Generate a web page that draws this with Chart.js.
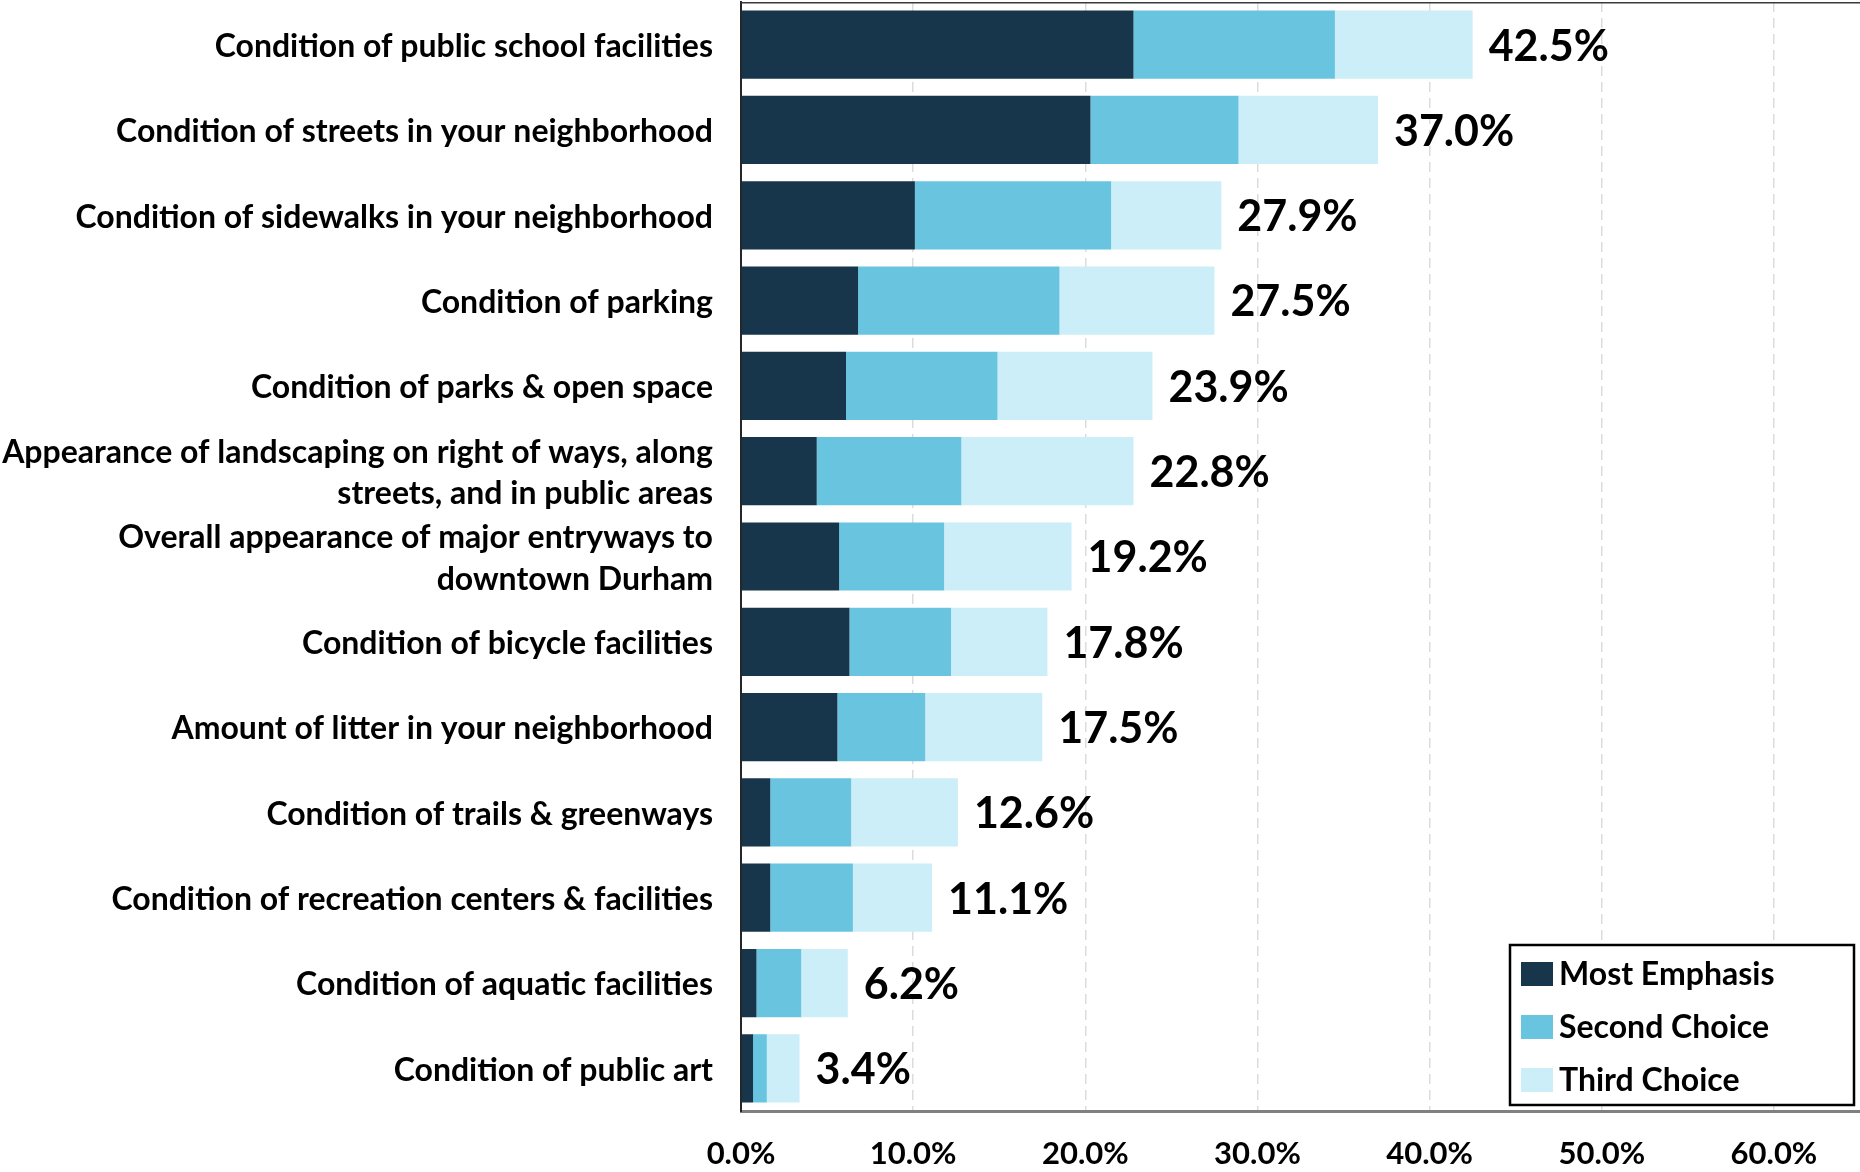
<!DOCTYPE html>
<html>
<head>
<meta charset="utf-8">
<script src="https://cdn.jsdelivr.net/npm/chart.js@4.4.1/dist/chart.umd.min.js"></script>
<style>
  html, body { margin: 0; padding: 0; background: #ffffff; }
  #wrap { width: 1860px; height: 1172px; }
</style>
</head>
<body>
<div id="wrap"><canvas id="chart" width="1860" height="1172"></canvas></div>
<script>
// Facilities / infrastructure items, ranked by total share of emphasis
const categories = [
  "Condition of public school facilities",
  "Condition of streets in your neighborhood",
  "Condition of sidewalks in your neighborhood",
  "Condition of parking",
  "Condition of parks & open space",
  ["Appearance of landscaping on right of ways, along", "streets, and in public areas"],
  ["Overall appearance of major entryways to", "downtown Durham"],
  "Condition of bicycle facilities",
  "Amount of litter in your neighborhood",
  "Condition of trails & greenways",
  "Condition of recreation centers & facilities",
  "Condition of aquatic facilities",
  "Condition of public art"
];

const seriesNames = ["Most Emphasis", "Second Choice", "Third Choice"];

const mostEmphasis = [22.8, 20.3, 10.1, 6.8, 6.1, 4.4, 5.7, 6.3, 5.6, 1.7, 1.7, 0.9, 0.7];
const secondChoice = [11.7, 8.6, 11.4, 11.7, 8.8, 8.4, 6.1, 5.9, 5.1, 4.7, 4.8, 2.6, 0.8];
const thirdChoice  = [8.0, 8.1, 6.4, 9.0, 9.0, 10.0, 7.4, 5.6, 6.8, 6.2, 4.6, 2.7, 1.9];

const xTickValues = [0, 10, 20, 30, 40, 50, 60];

const colors = ["#17364c", "#69c5df", "#cceef8"];
const FONT = "Lato, 'Open Sans', sans-serif";

// Total percentage printed at the end of each stacked bar
const totalLabels = {
  id: "totalLabels",
  afterDatasetsDraw(chart) {
    const { ctx, scales: { x, y } } = chart;
    ctx.save();
    ctx.font = "bold 43px " + FONT;
    ctx.fillStyle = "#000000";
    ctx.textAlign = "left";
    ctx.textBaseline = "middle";
    chart.data.labels.forEach((_, i) => {
      const total = chart.data.datasets.reduce((s, ds) => s + ds.data[i], 0);
      ctx.fillText(total.toFixed(1) + "%", x.getPixelForValue(total) + 16, y.getPixelForValue(i) + 2);
    });
    ctx.restore();
  }
};

// Thin frame line across the top of the plot area
const topFrame = {
  id: "topFrame",
  afterDraw(chart) {
    const { ctx, chartArea } = chart;
    ctx.save();
    ctx.strokeStyle = "#3a3a3a";
    ctx.lineWidth = 1.5;
    ctx.beginPath();
    ctx.moveTo(chartArea.left, chartArea.top + 0.75);
    ctx.lineTo(chartArea.right, chartArea.top + 0.75);
    ctx.stroke();
    ctx.restore();
  }
};

// Boxed legend in the lower-right corner of the plot area
const boxLegend = {
  id: "boxLegend",
  afterDraw(chart) {
    const { ctx } = chart;
    const box = { x: 1510, y: 945, w: 344, h: 160 };
    ctx.save();
    ctx.fillStyle = "#ffffff";
    ctx.fillRect(box.x, box.y, box.w, box.h);
    ctx.strokeStyle = "#000000";
    ctx.lineWidth = 2.5;
    ctx.strokeRect(box.x, box.y, box.w, box.h);
    ctx.font = "bold 32px " + FONT;
    ctx.textAlign = "left";
    ctx.textBaseline = "middle";
    chart.data.datasets.forEach((ds, i) => {
      const cy = box.y + 29 + i * 53;
      ctx.fillStyle = ds.backgroundColor;
      ctx.fillRect(box.x + 11, cy - 12, 32, 24);
      ctx.fillStyle = "#000000";
      ctx.fillText(ds.label, box.x + 49, cy + 1);
    });
    ctx.restore();
  }
};

new Chart(document.getElementById("chart"), {
  type: "bar",
  data: {
    labels: categories,
    datasets: [
      { label: seriesNames[0], data: mostEmphasis, backgroundColor: colors[0] },
      { label: seriesNames[1], data: secondChoice, backgroundColor: colors[1] },
      { label: seriesNames[2], data: thirdChoice,  backgroundColor: colors[2] }
    ]
  },
  options: {
    indexAxis: "y",
    responsive: false,
    animation: false,
    devicePixelRatio: 1,
    layout: { padding: { top: 2, right: 0, bottom: 0, left: 0 } },
    datasets: { bar: { barPercentage: 0.8, categoryPercentage: 1.0, borderWidth: 0 } },
    plugins: {
      legend: { display: false },
      tooltip: { enabled: false }
    },
    scales: {
      x: {
        stacked: true,
        min: 0,
        max: 65,
        afterBuildTicks(scale) {
          scale.ticks = xTickValues.map(v => ({ value: v }));
        },
        afterFit(scale) {
          scale.height = 61;
          scale.paddingLeft = 0;
          scale.paddingRight = 0;
        },
        ticks: {
          color: "#000000",
          padding: 24,
          font: { family: FONT, size: 31, weight: "bold" },
          callback: v => Number(v).toFixed(1) + "%"
        },
        grid: {
          drawTicks: false,
          lineWidth: 1.5,
          color: ctx => (ctx.tick && ctx.tick.value === 0) ? "rgba(0,0,0,0)" : "#dcdcdc"
        },
        border: { display: true, color: "#808080", width: 3, dash: [10, 6] }
      },
      y: {
        stacked: true,
        afterFit(scale) {
          scale.width = 741;
          scale.paddingTop = 0;
          scale.paddingBottom = 0;
        },
        grid: { display: false, drawTicks: false },
        border: { display: true, color: "#262626", width: 2 },
        ticks: {
          color: "#000000",
          padding: 28,
          labelOffset: 2,
          autoSkip: false,
          font: { family: FONT, size: 32, weight: "bold", lineHeight: 1.3 }
        }
      }
    }
  },
  plugins: [totalLabels, topFrame, boxLegend]
});
</script>
</body>
</html>
